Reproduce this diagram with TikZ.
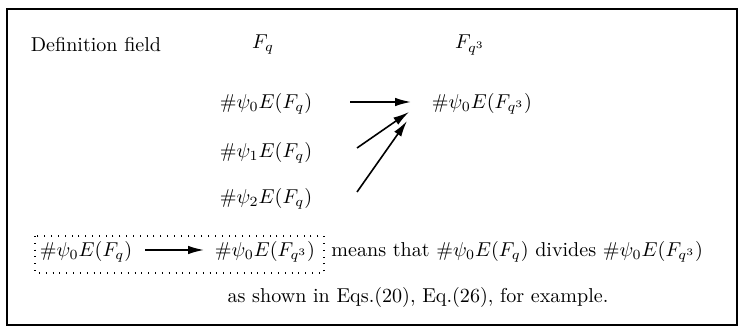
\documentclass[tikz,border=0pt]{standalone}
\usepackage{tikz}
\usetikzlibrary{positioning, arrows.meta}

\begin{document}
\begin{tikzpicture}[x=0.0175cm, y=-0.0175cm, font=\normalsize,
  lbl/.style={inner sep=1pt},
  arr/.style={-{Latex[length=2.8mm, width=1.5mm]}, thick},
  dotbox/.style={dash pattern=on 0.5pt off 2.9pt, line width=0.6pt}
]
  \useasboundingbox (0,0) rectangle (740,328);
  \draw[line width=0.8pt] (7,9) rectangle (737,325);

  % headers
  \node[lbl] (def) at (96,45) {Definition field};
  \node[lbl] (fq) at (263,45) {$F_q$};
  \node[lbl] (fq3) at (470,45) {$F_{q^3}$};

  % divisors
  \node[lbl] (p0) at (266,104) {$\#\psi_0E(F_q)$};
  \node[lbl] (p1) at (266,153) {$\#\psi_1E(F_q)$};
  \node[lbl] (p2) at (266,199) {$\#\psi_2E(F_q)$};
  \node[lbl] (t0) at (482,104) {$\#\psi_0E(F_{q^3})$};

  \coordinate (s0) at (350,102);
  \coordinate (s1) at (357,148);
  \coordinate (s2) at (357,192);
  \coordinate (e0) at (411,102);
  \coordinate (e1) at (409,112);
  \coordinate (e2) at (407,121);
  \draw[arr] (s0) -- (e0);
  \draw[arr] (s1) -- (e1);
  \draw[arr] (s2) -- (e2);

  % legend
  \draw[dotbox] (35,236) rectangle (324,273);
  \node[lbl] (a) at (86,252) {$\#\psi_0E(F_q)$};
  \node[lbl] (b) at (265,252) {$\#\psi_0E(F_{q^3})$};
  \coordinate (la) at (145,250);
  \coordinate (lb) at (204,250);
  \draw[arr] (la) -- (lb);
  \node[lbl, anchor=west] (m) at (329,252) {means that $\#\psi_0E(F_q)$ divides $\#\psi_0E(F_{q^3})$};
  \node[lbl] (ex) at (418,297) {as shown in Eqs.(20), Eq.(26), for example.};
\end{tikzpicture}
\end{document}
